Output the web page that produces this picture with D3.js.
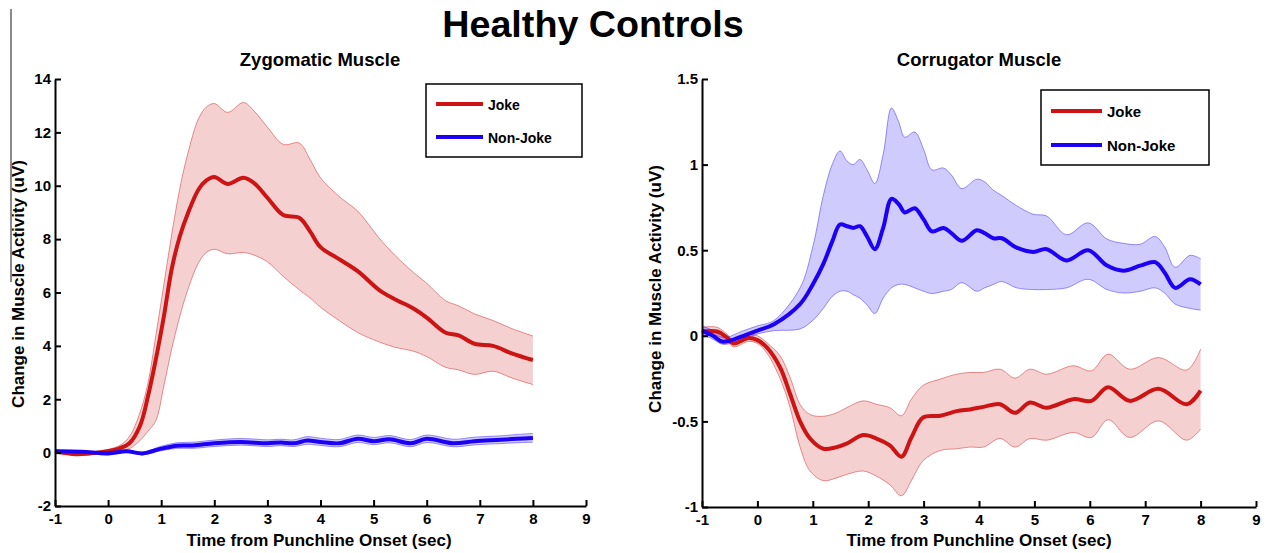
<!DOCTYPE html>
<html>
<head>
<meta charset="utf-8">
<script src="https://cdn.jsdelivr.net/npm/d3@7"></script>
<style>
  html, body { margin: 0; padding: 0; background: #fff; }
  svg { display: block; font-family: "Liberation Sans", Arial, Helvetica, sans-serif; }
</style>
</head>
<body>
<svg id="chart" width="1267" height="553"></svg>
<script>
// ---------------- DATA ----------------
const xTicks = [-1, 0, 1, 2, 3, 4, 5, 6, 7, 8, 9];
const zygoYTicks = [-2, 0, 2, 4, 6, 8, 10, 12, 14];
const corrYTicks = [-1, -0.5, 0, 0.5, 1, 1.5];
const seriesNames = ["Joke", "Non-Joke"];

// Zygomatic – Joke
const zygJokeT     = [-1, -0.6, -0.2, 0.2, 0.4, 0.6, 0.75, 0.9, 1.05, 1.2, 1.35, 1.5, 1.7, 1.85, 2.0, 2.25, 2.55, 2.75, 3.0, 3.3, 3.6, 3.8, 4.0, 4.35, 4.7, 5.1, 5.4, 5.75, 6.0, 6.35, 6.6, 6.9, 7.25, 7.6, 8.0];
const zygJokeMean  = [0.05, -0.06, 0.0, 0.15, 0.35, 1.0, 2.1, 3.5, 5.1, 6.9, 8.1, 8.95, 9.85, 10.2, 10.33, 10.07, 10.3, 10.1, 9.55, 8.9, 8.8, 8.3, 7.7, 7.25, 6.8, 6.1, 5.75, 5.4, 5.06, 4.5, 4.39, 4.08, 4.0, 3.72, 3.47];
const zygJokeUpper = [0.1, -0.02, 0.05, 0.25, 0.6, 1.5, 2.6, 4.4, 6.3, 8.2, 9.9, 11.2, 12.5, 12.95, 13.08, 12.75, 13.12, 12.8, 12.2, 11.55, 11.6, 11.0, 10.3, 9.6, 9.05, 8.05, 7.4, 6.75, 6.35, 5.7, 5.5, 5.2, 4.95, 4.65, 4.37];
const zygJokeLower = [0.0, -0.1, -0.05, 0.08, 0.15, 0.45, 0.8, 1.2, 2.5, 3.9, 5.1, 6.1, 7.1, 7.5, 7.62, 7.45, 7.5, 7.4, 7.15, 6.6, 6.1, 5.8, 5.45, 4.95, 4.5, 4.15, 3.95, 3.8, 3.6, 3.2, 3.1, 2.93, 3.05, 2.8, 2.55];

// Zygomatic – Non-Joke
const zygNonT     = [-1, -0.5, 0, 0.35, 0.65, 1.0, 1.3, 1.6, 2.0, 2.5, 3.0, 3.25, 3.5, 3.75, 4.0, 4.35, 4.7, 5.0, 5.3, 5.7, 6.0, 6.5, 6.9, 7.4, 7.7, 8.0];
const zygNonMean  = [0.05, 0.03, -0.03, 0.05, -0.03, 0.15, 0.26, 0.27, 0.35, 0.4, 0.35, 0.38, 0.35, 0.45, 0.4, 0.35, 0.52, 0.43, 0.5, 0.35, 0.52, 0.35, 0.43, 0.48, 0.52, 0.55];
const zygNonUpper = [0.1, 0.07, 0.02, 0.09, 0.02, 0.24, 0.37, 0.39, 0.47, 0.53, 0.48, 0.5, 0.48, 0.6, 0.54, 0.49, 0.66, 0.57, 0.64, 0.49, 0.66, 0.5, 0.58, 0.63, 0.68, 0.72];
const zygNonLower = [0.0, -0.01, -0.08, 0.01, -0.08, 0.07, 0.16, 0.16, 0.23, 0.28, 0.23, 0.26, 0.23, 0.31, 0.27, 0.22, 0.38, 0.3, 0.37, 0.22, 0.38, 0.22, 0.29, 0.34, 0.37, 0.39];

// Corrugator – Joke
const corJokeT     = [-1, -0.73, -0.55, -0.43, -0.16, 0.0, 0.17, 0.41, 0.59, 0.77, 0.95, 1.19, 1.43, 1.61, 1.91, 2.15, 2.39, 2.6, 2.78, 2.99, 3.3, 3.6, 3.84, 4.08, 4.38, 4.65, 4.92, 5.22, 5.7, 6.03, 6.33, 6.72, 7.24, 7.75, 8.0];
const corJokeMean  = [0.025, 0.025, -0.01, -0.045, -0.013, -0.025, -0.068, -0.185, -0.34, -0.50, -0.60, -0.66, -0.65, -0.63, -0.58, -0.60, -0.64, -0.706, -0.594, -0.477, -0.467, -0.44, -0.43, -0.415, -0.40, -0.45, -0.39, -0.42, -0.37, -0.38, -0.30, -0.38, -0.31, -0.40, -0.32];
const corJokeUpper = [0.05, 0.05, 0.01, -0.025, 0.007, 0.0, -0.04, -0.117, -0.243, -0.40, -0.46, -0.47, -0.45, -0.42, -0.38, -0.40, -0.42, -0.467, -0.37, -0.29, -0.253, -0.224, -0.214, -0.214, -0.195, -0.247, -0.195, -0.224, -0.175, -0.204, -0.107, -0.195, -0.127, -0.20, -0.078];
const corJokeLower = [0.0, 0.0, -0.03, -0.065, -0.033, -0.045, -0.1, -0.25, -0.42, -0.65, -0.79, -0.846, -0.83, -0.81, -0.79, -0.82, -0.87, -0.934, -0.846, -0.73, -0.67, -0.66, -0.65, -0.65, -0.60, -0.65, -0.60, -0.61, -0.565, -0.594, -0.49, -0.594, -0.497, -0.61, -0.545];

// Corrugator – Non-Joke
const corNonT     = [-1, -0.8, -0.62, -0.25, 0, 0.3, 0.77, 1.0, 1.19, 1.35, 1.49, 1.62, 1.73, 1.85, 1.98, 2.12, 2.27, 2.42, 2.55, 2.66, 2.84, 3.0, 3.15, 3.36, 3.5, 3.69, 3.96, 4.1, 4.26, 4.41, 4.68, 4.98, 5.22, 5.58, 5.97, 6.31, 6.61, 6.91, 7.18, 7.35, 7.54, 7.81, 8.0];
const corNonMean  = [0.03, 0.0, -0.035, 0.0, 0.03, 0.068, 0.185, 0.3, 0.42, 0.55, 0.65, 0.64, 0.63, 0.64, 0.58, 0.506, 0.63, 0.80, 0.77, 0.72, 0.745, 0.68, 0.61, 0.63, 0.6, 0.555, 0.617, 0.6, 0.57, 0.57, 0.515, 0.49, 0.506, 0.44, 0.50, 0.41, 0.38, 0.41, 0.43, 0.37, 0.28, 0.33, 0.30];
const corNonUpper = [0.058, 0.03, -0.01, 0.03, 0.058, 0.09, 0.28, 0.52, 0.82, 1.0, 1.08, 1.02, 1.0, 1.03, 0.97, 0.89, 1.06, 1.33, 1.25, 1.16, 1.19, 1.09, 0.97, 0.98, 0.94, 0.86, 0.915, 0.9, 0.85, 0.82, 0.76, 0.71, 0.70, 0.59, 0.66, 0.565, 0.54, 0.535, 0.58, 0.52, 0.40, 0.47, 0.45];
const corNonLower = [0.01, -0.02, -0.05, -0.02, 0.01, 0.03, 0.04, 0.09, 0.16, 0.23, 0.26, 0.26, 0.24, 0.22, 0.18, 0.13, 0.22, 0.28, 0.3, 0.30, 0.28, 0.26, 0.247, 0.26, 0.27, 0.31, 0.26, 0.28, 0.30, 0.317, 0.28, 0.27, 0.27, 0.28, 0.33, 0.27, 0.25, 0.26, 0.28, 0.25, 0.185, 0.16, 0.15];

// ---------------- DRAWING ----------------
const svg = d3.select("#chart");
const RED = "#cc1414", BLUE = "#1c00f5";
const RED_FILL = "rgba(204,20,20,0.2)", BLUE_FILL = "rgba(40,20,245,0.22)";
const RED_EDGE = "rgba(204,20,20,0.45)", BLUE_EDGE = "rgba(40,20,245,0.45)";
const FONT = "'Liberation Sans', Arial, Helvetica, sans-serif";

// artifact vertical line at far left
svg.append("line").attr("x1", 11).attr("x2", 11).attr("y1", 9).attr("y2", 282)
  .attr("stroke", "#8a8a8a").attr("stroke-width", 2);

svg.append("text").attr("x", 593).attr("y", 37).attr("text-anchor", "middle")
  .attr("font-size", 37.7).attr("font-weight", "bold").text("Healthy Controls");

function zip(t, v) { return t.map((d, i) => ({ t: d, v: v[i] })); }
function zip3(t, lo, hi) { return t.map((d, i) => ({ t: d, lo: lo[i], hi: hi[i] })); }
const plainFmt = d => String(d);

function panel(cfg) {
  const x = d3.scaleLinear().domain([-1, 9]).range([cfg.x0, cfg.x1]);
  const y = d3.scaleLinear().domain(cfg.yDomain).range([cfg.y1, cfg.y0]);
  const g = svg.append("g");
  const curve = d3.curveCatmullRom.alpha(0.5);

  const area = d3.area().x(d => x(d.t)).y0(d => y(d.lo)).y1(d => y(d.hi)).curve(curve);
  const line = d3.line().x(d => x(d.t)).y(d => y(d.v)).curve(curve);

  cfg.series.forEach(s => {
    const band = zip3(s.t, s.lo, s.hi);
    g.append("path").attr("d", area(band)).attr("fill", s.fill).attr("stroke", "none");
    g.append("path").attr("d", line(zip(s.t, s.hi))).attr("fill", "none").attr("stroke", s.edge).attr("stroke-width", 1);
    g.append("path").attr("d", line(zip(s.t, s.lo))).attr("fill", "none").attr("stroke", s.edge).attr("stroke-width", 1);
  });
  cfg.series.forEach(s => {
    g.append("path").attr("d", line(zip(s.t, s.mean))).attr("fill", "none")
      .attr("stroke", s.color).attr("stroke-width", 4).attr("stroke-linejoin", "round");
  });

  // axes (MATLAB style, inward ticks, box off)
  const ax = g.append("g").attr("transform", `translate(0,${cfg.y1})`)
    .call(d3.axisBottom(x).tickValues(xTicks).tickSize(-6).tickSizeOuter(0).tickPadding(7).tickFormat(plainFmt));
  const ay = g.append("g").attr("transform", `translate(${cfg.x0},0)`)
    .call(d3.axisLeft(y).tickValues(cfg.yTicks).tickSize(-6).tickSizeOuter(0).tickPadding(4).tickFormat(plainFmt));
  [ax, ay].forEach(a => {
    a.select(".domain").attr("stroke", "#000").attr("stroke-width", 2);
    a.selectAll(".tick line").attr("stroke", "#000").attr("stroke-width", 2);
    a.selectAll(".tick text").attr("font-size", 15).attr("font-weight", "bold").attr("fill", "#000")
      .attr("font-family", FONT);
  });
  ax.selectAll(".tick text").attr("dy", "0.71em");

  // titles
  g.append("text").attr("x", cfg.titleX).attr("y", 66).attr("text-anchor", "middle")
    .attr("font-size", 18.5).attr("font-weight", "bold").text(cfg.title);
  g.append("text").attr("x", cfg.xlabX).attr("y", 546).attr("text-anchor", "middle")
    .attr("font-size", 17).attr("font-weight", "bold").text("Time from Punchline Onset (sec)");
  g.append("text").attr("transform", `translate(${cfg.ylabX},${cfg.ylabY}) rotate(-90)`)
    .attr("text-anchor", "middle").attr("font-size", 17).attr("font-weight", "bold")
    .text("Change in Muscle Activity (uV)");

  // legend
  const L = cfg.legend;
  const lg = g.append("g");
  lg.append("rect").attr("x", L.x).attr("y", L.y).attr("width", L.w).attr("height", L.h)
    .attr("fill", "#fff").attr("stroke", "#000").attr("stroke-width", 1.5);
  seriesNames.forEach((name, i) => {
    const yy = L.y + L.r0 + i * L.dr;
    lg.append("line").attr("x1", L.x + 10).attr("x2", L.x + 10 + L.len).attr("y1", yy).attr("y2", yy)
      .attr("stroke", i === 0 ? RED : BLUE).attr("stroke-width", 4);
    lg.append("text").attr("x", L.x + 15 + L.len).attr("y", yy + 6)
      .attr("font-size", L.fs).attr("font-weight", "bold").text(name);
  });
}

panel({
  x0: 55, x1: 586, y0: 79, y1: 506, yDomain: [-2, 14], yTicks: zygoYTicks,
  title: "Zygomatic Muscle", titleX: 320, xlabX: 319,
  ylabX: 24, ylabY: 284,
  legend: { x: 426, y: 84, w: 156, h: 73, r0: 20, dr: 33, len: 47, fs: 14 },
  series: [
    { t: zygJokeT, mean: zygJokeMean, lo: zygJokeLower, hi: zygJokeUpper, color: RED, fill: RED_FILL, edge: RED_EDGE },
    { t: zygNonT, mean: zygNonMean, lo: zygNonLower, hi: zygNonUpper, color: BLUE, fill: BLUE_FILL, edge: BLUE_EDGE }
  ]
});

panel({
  x0: 702, x1: 1256, y0: 79, y1: 507, yDomain: [-1, 1.5], yTicks: corrYTicks,
  title: "Corrugator Muscle", titleX: 979, xlabX: 979,
  ylabX: 661, ylabY: 289,
  legend: { x: 1041, y: 90, w: 168, h: 75, r0: 21, dr: 34, len: 51, fs: 15 },
  series: [
    { t: corJokeT, mean: corJokeMean, lo: corJokeLower, hi: corJokeUpper, color: RED, fill: RED_FILL, edge: RED_EDGE },
    { t: corNonT, mean: corNonMean, lo: corNonLower, hi: corNonUpper, color: BLUE, fill: BLUE_FILL, edge: BLUE_EDGE }
  ]
});
</script>
</body>
</html>
